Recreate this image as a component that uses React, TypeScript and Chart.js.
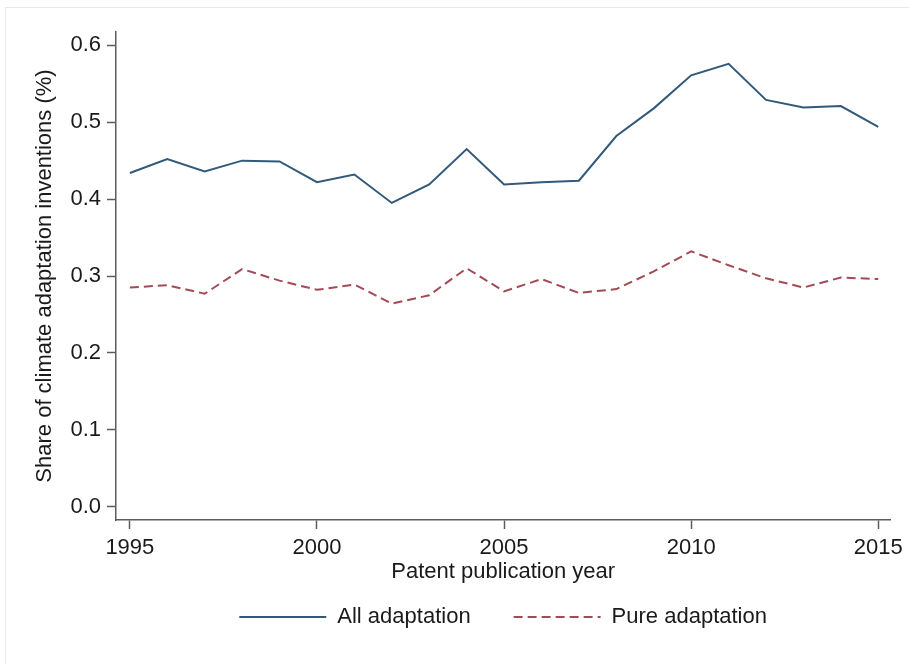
import React, { useEffect, useRef } from "react";
import { Chart, registerables } from "chart.js";

Chart.register(...registerables);

const YEARS = [1995, 1996, 1997, 1998, 1999, 2000, 2001, 2002, 2003, 2004, 2005, 2006, 2007, 2008, 2009, 2010, 2011, 2012, 2013, 2014, 2015];
const ALL_ADAPTATION = [0.434, 0.452, 0.436, 0.450, 0.449, 0.422, 0.432, 0.395, 0.419, 0.465, 0.419, 0.422, 0.424, 0.482, 0.518, 0.561, 0.576, 0.529, 0.519, 0.521, 0.494];
const PURE_ADAPTATION = [0.285, 0.288, 0.277, 0.309, 0.294, 0.282, 0.289, 0.264, 0.275, 0.310, 0.280, 0.296, 0.278, 0.283, 0.306, 0.332, 0.314, 0.297, 0.285, 0.298, 0.296];
const X_TICKS = [1995, 2000, 2005, 2010, 2015];
const Y_TICKS = [0, 0.1, 0.2, 0.3, 0.4, 0.5, 0.6];
const SERIES_LABELS = ["All adaptation", "Pure adaptation"];
const X_TITLE = "Patent publication year";
const Y_TITLE = "Share of climate adaptation inventions (%)";

const FONT = "'Liberation Sans', Arial, Helvetica, sans-serif";
const TEXT = "#1a1a1a";
const AXIS = "#5c5c5c";

export default function App() {
  const ref = useRef<HTMLCanvasElement | null>(null);

  useEffect(() => {
    if (!ref.current) return;
    Chart.defaults.font.family = FONT;
    const baseGenerate = Chart.defaults.plugins.legend.labels.generateLabels;
    const chart = new Chart(ref.current, {
      type: "line",
      data: {
        datasets: [
          {
            label: SERIES_LABELS[0],
            data: YEARS.map((x, i) => ({ x, y: ALL_ADAPTATION[i] })),
            borderColor: "#33597a",
            backgroundColor: "#33597a",
            borderWidth: 2,
            pointRadius: 0,
            tension: 0,
          },
          {
            label: SERIES_LABELS[1],
            data: YEARS.map((x, i) => ({ x, y: PURE_ADAPTATION[i] })),
            borderColor: "#a24b56",
            backgroundColor: "#a24b56",
            borderWidth: 2,
            borderDash: [9, 5],
            pointRadius: 0,
            tension: 0,
          },
        ],
      },
      options: {
        animation: false,
        responsive: true,
        maintainAspectRatio: false,
        layout: { padding: { left: 0, top: 32, right: 16, bottom: 26 } },
        plugins: {
          tooltip: { enabled: false },
          legend: {
            position: "bottom",
            fullSize: false,
            labels: {
              usePointStyle: true,
              pointStyle: "line",
              pointStyleWidth: 87,
              padding: 43,
              color: TEXT,
              font: { size: 22, family: FONT },
              generateLabels: (c: any) =>
                baseGenerate(c).map((item: any) => ({
                  ...item,
                  lineDash: (c.data.datasets[item.datasetIndex] as any).borderDash || [],
                  lineWidth: 2,
                })),
            },
          },
        },
        scales: {
          x: {
            type: "linear",
            min: 1994.63,
            max: 2015.32,
            afterBuildTicks: (s: any) => {
              s.ticks = X_TICKS.map((v) => ({ value: v }));
            },
            afterFit: (s: any) => {
              s.height = 43;
            },
            ticks: {
              autoSkip: false,
              maxRotation: 0,
              padding: 6,
              color: TEXT,
              font: { size: 22, family: FONT },
              callback: (v: any) => String(v),
            },
            grid: {
              drawOnChartArea: false,
              drawTicks: true,
              tickLength: 9,
              tickColor: AXIS,
              tickWidth: 1.5,
            },
            border: { display: true, color: AXIS, width: 1.5 },
            title: {
              display: true,
              text: X_TITLE,
              color: TEXT,
              font: { size: 22, family: FONT },
              padding: { top: 0, bottom: -22 },
            },
          },
          y: {
            type: "linear",
            min: -0.0173,
            max: 0.6173,
            afterBuildTicks: (s: any) => {
              s.ticks = Y_TICKS.map((v) => ({ value: v }));
            },
            afterFit: (s: any) => {
              s.width = 116;
            },
            ticks: {
              autoSkip: false,
              padding: 6,
              color: TEXT,
              font: { size: 22, family: FONT },
              callback: (v: any) => Number(v).toFixed(1),
            },
            grid: {
              drawOnChartArea: false,
              drawTicks: true,
              tickLength: 9,
              tickColor: AXIS,
              tickWidth: 1.5,
            },
            border: { display: true, color: AXIS, width: 1.5 },
            title: {
              display: true,
              text: Y_TITLE,
              color: TEXT,
              font: { size: 22, family: FONT },
              padding: { top: 32, bottom: 0 },
            },
          },
        },
      },
    });
    return () => chart.destroy();
  }, []);

  return (
    <div style={{ position: "absolute", left: 0, top: 0, width: 909, height: 664, background: "#fff" }}>
      <div
        style={{
          position: "absolute",
          left: 5,
          top: 7,
          right: 0,
          bottom: 0,
          borderLeft: "1px solid #e4eaee",
          borderTop: "1px solid #e4eaee",
        }}
      />
      <div style={{ position: "absolute", left: 0, top: 0, width: 909, height: 664 }}>
        <canvas ref={ref} />
      </div>
    </div>
  );
}
